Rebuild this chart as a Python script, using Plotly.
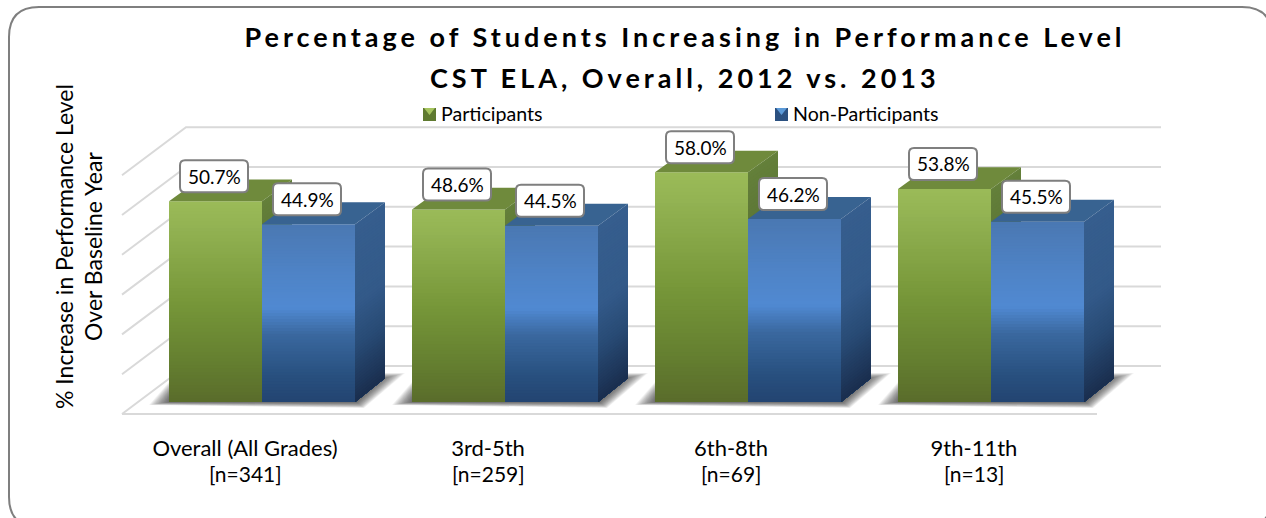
# Percentage of students increasing in performance level, fake-3D column chart
import plotly.graph_objects as go

# data
categories = ["Overall (All Grades)", "3rd-5th", "6th-8th", "9th-11th"]
n_labels = ["[n=341]", "[n=259]", "[n=69]", "[n=13]"]
participants = [50.7, 48.6, 58.0, 53.8]
non_participants = [44.9, 44.5, 46.2, 45.5]
wall_ticks = [0, 10, 20, 30, 40, 50, 60]

title_lines = ["Percentage of Students Increasing in Performance Level", "CST ELA, Overall, 2012 vs. 2013"]
y_title_lines = ["% Increase in Performance Level", "Over Baseline Year"]
series_names = ["Participants", "Non-Participants"]

# vertical gradients, (position from top, colour)
green_front = [(0, "#9abb58"), (0.12, "#93b353"), (0.5, "#779739"), (0.8, "#647f30"), (1, "#5a6c2b")]
blue_front = [(0, "#4a78b2"), (0.3, "#4f84c8"), (0.47, "#5089d2"), (0.62, "#3a689f"), (0.85, "#28507f"), (1, "#234471")]
green_side = [(0, "#64803a"), (1, "#46592a")]
blue_side = [(0, "#365e8e"), (0.45, "#335a89"), (0.7, "#284a74"), (1, "#1a2e4e")]
green_top = "#6f8a3c"
blue_top = "#386391"
grid_color = "#d9d9d9"
FONT = "Lato"

# pixel layout of the plot area
W, H = 1266, 518
PL, PR, PT, PB = 100, 1180, 100, 425
GROUP_PX = 243       # distance between groups
CENTER0_PX = 262     # first group centre
ZERO_PX = 402        # value 0 on the front plane
UNIT_PX = 3.96       # px for one percent
BAR_PX = 93
DEPTH_X = 30 / GROUP_PX
DEPTH_Y = 24 / UNIT_PX
DEPTH_K = 0.989
BAR_W = BAR_PX / GROUP_PX
SLICES = 60

x_range = [(PL - CENTER0_PX) / GROUP_PX, (PR - CENTER0_PX) / GROUP_PX]
y_range = [(ZERO_PX - PB) / UNIT_PX, (ZERO_PX - PT) / UNIT_PX]


def px_x(px):
    return (px - PL) / (PR - PL)


def px_y(py):
    return (PB - py) / (PB - PT)


def hex_rgb(c):
    return [int(c[i:i + 2], 16) for i in (1, 3, 5)]


def grad(stops, f):
    for (p0, c0), (p1, c1) in zip(stops, stops[1:]):
        if f <= p1:
            t = (f - p0) / (p1 - p0)
            a, b = hex_rgb(c0), hex_rgb(c1)
            return "rgb(%d,%d,%d)" % tuple(round(a[k] + (b[k] - a[k]) * t) for k in range(3))
    return stops[-1][1]


fig = go.Figure()

# back wall, floor and side wall lines
wall_y = [(ZERO_PX - 366) / UNIT_PX + v * 3.98 / UNIT_PX for v in wall_ticks]
back_l, back_r = (186 - CENTER0_PX) / GROUP_PX, (1161 - CENTER0_PX) / GROUP_PX
front_l, front_r = (122 - CENTER0_PX) / GROUP_PX, (1097 - CENTER0_PX) / GROUP_PX
lx, ly = [], []
for wy in wall_y:
    lx += [front_l, back_l, back_r, None]
    ly += [wy - 48 / UNIT_PX, wy, wy, None]
lx += [front_l, front_r]
ly += [wall_y[0] - 48 / UNIT_PX, wall_y[0] - 48 / UNIT_PX]
fig.add_trace(go.Scatter(x=lx, y=ly, mode="lines", line=dict(color=grid_color, width=2),
                         hoverinfo="skip", showlegend=False))

# soft shadow on the floor, stacked see-through layers from wide to narrow
SHADOW_LAYERS = 20
for k in range(SHADOW_LAYERS):
    g = 1 - k / (SHADOW_LAYERS - 1)
    sx, sy = [], []
    for i in range(len(categories)):
        xl, xr = i - BAR_W, i + BAR_W
        sx += [xl - 20 * g / GROUP_PX, xr + (1 + 8 * g) / GROUP_PX, xr + (26 + 24 * g) / GROUP_PX,
               xr + (24 - 2 * g) / GROUP_PX, xl, xl - 20 * g / GROUP_PX, None]
        sy += [-3 * g / UNIT_PX, -6 * g / UNIT_PX, (23 + 6 * g) / UNIT_PX,
               (23 + 6 * g) / UNIT_PX, (3 + 17 * g) / UNIT_PX, -3 * g / UNIT_PX, None]
    fig.add_trace(go.Scatter(x=sx, y=sy, mode="lines", fill="toself", line=dict(width=0),
                             fillcolor="rgba(30,30,30,0.05)", hoverinfo="skip", showlegend=False))


def add_series(values, offset, front, side, top, xa, ya):
    xs = [i + offset * BAR_W / 2 for i in range(len(values))]
    # top faces
    tx, ty = [], []
    for x, v in zip(xs, values):
        back = DEPTH_Y + v * DEPTH_K
        tx += [x - BAR_W / 2, x + BAR_W / 2, x + BAR_W / 2 + DEPTH_X, x - BAR_W / 2 + DEPTH_X, x - BAR_W / 2, None]
        ty += [v, v, back, back, v, None]
    fig.add_trace(go.Scatter(x=tx, y=ty, mode="lines", fill="toself", fillcolor=top, line=dict(width=0),
                             hoverinfo="skip", showlegend=False, xaxis=xa, yaxis=ya))
    # side and front faces: each colour step is drawn from the floor up to its
    # own height, top step first, so the later ones paint over and leave no seams
    for s in range(SLICES):
        f0 = s / SLICES
        mid = (s + 0.5) / SLICES
        sx, sy = [], []
        for x, v in zip(xs, values):
            r = x + BAR_W / 2
            hi = v * (1 - f0)
            sx += [r, r + DEPTH_X, r + DEPTH_X, r, r, None]
            sy += [0, DEPTH_Y, DEPTH_Y + hi * DEPTH_K, hi, 0, None]
        fig.add_trace(go.Scatter(x=sx, y=sy, mode="lines", fill="toself", fillcolor=grad(side, mid),
                                 line=dict(width=0), hoverinfo="skip",
                                 showlegend=False, xaxis=xa, yaxis=ya))
        fig.add_trace(go.Bar(x=xs, y=[v * (1 - f0) for v in values],
                             width=BAR_W, marker=dict(color=grad(front, mid), line=dict(width=0)),
                             hoverinfo="skip", showlegend=False, xaxis=xa, yaxis=ya))


add_series(participants, -1, green_front, green_side, green_top, "x2", "y2")
add_series(non_participants, 1, blue_front, blue_side, blue_top, "x3", "y3")

shapes = []
annotations = []


def rounded_path(x0, y0, x1, y1, r):
    return (f"M {x0 + r} {y0} L {x1 - r} {y0} Q {x1} {y0} {x1} {y0 + r} L {x1} {y1 - r} Q {x1} {y1} {x1 - r} {y1} "
            f"L {x0 + r} {y1} Q {x0} {y1} {x0} {y1 - r} L {x0} {y0 + r} Q {x0} {y0} {x0 + r} {y0} Z")


# value labels in rounded boxes, anchored on the bars
for values, offset in [(participants, -1), (non_participants, 1)]:
    for i, v in enumerate(values):
        x = i + offset * BAR_W / 2 - 1.5 / GROUP_PX
        shapes.append(dict(type="path", xref="x", yref="y", xsizemode="pixel", ysizemode="pixel",
                           xanchor=x, yanchor=v, path=rounded_path(-34, 9, 34, 41, 5),
                           fillcolor="white", line=dict(color="#7f7f7f", width=2), layer="above"))
        annotations.append(dict(x=x, y=v, xref="x", yref="y", text=f"{v:.1f}%", showarrow=False, yshift=25,
                                font=dict(family=FONT, size=19, color="black")))

# outer rounded frame, its right and bottom sides run off the picture
fx = [px_x(9), px_x(1272), px_x(39), px_x(1242)]
fy = [px_y(7), px_y(527), px_y(37), px_y(497)]
frame = (f"M {fx[2]} {fy[0]} L {fx[3]} {fy[0]} Q {fx[1]} {fy[0]} {fx[1]} {fy[2]} L {fx[1]} {fy[3]} "
         f"Q {fx[1]} {fy[1]} {fx[3]} {fy[1]} L {fx[2]} {fy[1]} Q {fx[0]} {fy[1]} {fx[0]} {fy[3]} "
         f"L {fx[0]} {fy[2]} Q {fx[0]} {fy[0]} {fx[2]} {fy[0]} Z")
shapes.append(dict(type="path", xref="paper", yref="paper", path=frame, line=dict(color="#7f7f7f", width=2)))

# legend, swatch with a lighter notch like the original bevel
legend_pos = [(423, "#5f7a30", "#a6c45f"), (775, "#2b5080", "#5c9ad8")]
for name, (lx0, dark, light) in zip(series_names, legend_pos):
    shapes.append(dict(type="rect", xref="paper", yref="paper", x0=px_x(lx0), x1=px_x(lx0 + 13),
                       y0=px_y(108), y1=px_y(121), fillcolor=dark, line=dict(width=0)))
    shapes.append(dict(type="path", xref="paper", yref="paper",
                       path=f"M {px_x(lx0 + 1)} {px_y(108)} L {px_x(lx0 + 12)} {px_y(108)} L {px_x(lx0 + 6.5)} {px_y(115)} Z",
                       fillcolor=light, line=dict(width=0)))
    annotations.append(dict(x=px_x(lx0 + 16), y=px_y(113.5), xref="paper", yref="paper", text=name, showarrow=False,
                            xanchor="left", yanchor="middle", font=dict(family=FONT, size=19.6, color="black")))

# y axis title, one annotation per line
for text, px in zip(y_title_lines, [64, 93]):
    annotations.append(dict(x=px_x(px), y=px_y(247), xref="paper", yref="paper", text=text, textangle=-90,
                            showarrow=False, xanchor="center", yanchor="middle",
                            font=dict(family=FONT, size=23, color="black")))

# second line of the category labels
for i, text in enumerate(n_labels):
    annotations.append(dict(x=i - 17 / GROUP_PX, y=px_y(473.5), xref="x", yref="paper", text=text, showarrow=False,
                            xanchor="center", yanchor="middle", font=dict(family=FONT, size=21, color="black")))

# second title line
annotations.append(dict(x=px_x(685), y=px_y(77), xref="paper", yref="paper", text=title_lines[1], showarrow=False,
                        xanchor="center", yanchor="middle",
                        font=dict(family=FONT, size=27, color="black", weight="bold")))

axis_off = dict(visible=False, fixedrange=True)
fig.update_layout(
    width=W, height=H, margin=dict(l=PL, r=W - PR, t=PT, b=H - PB),
    paper_bgcolor="white", plot_bgcolor="rgba(0,0,0,0)",
    barmode="overlay", showlegend=False, shapes=shapes, annotations=annotations,
    title=dict(text=title_lines[0], x=685 / W, xanchor="center", xref="container", y=1 - 38 / H, yanchor="middle",
               font=dict(family=FONT, size=27, color="black", weight="bold")),
    xaxis=dict(range=x_range, tickmode="array", tickvals=[i - 17 / GROUP_PX for i in range(len(categories))],
               ticktext=categories, ticks="outside", ticklen=4, tickcolor="rgba(0,0,0,0)", showgrid=False,
               zeroline=False, showline=False, fixedrange=True, tickfont=dict(family=FONT, size=22, color="black")),
    yaxis=dict(range=y_range, showticklabels=False, ticks="", showgrid=False, zeroline=False, fixedrange=True),
    xaxis2=dict(range=x_range, overlaying="x", **axis_off),
    yaxis2=dict(range=y_range, overlaying="y", **axis_off),
    xaxis3=dict(range=x_range, overlaying="x", **axis_off),
    yaxis3=dict(range=y_range, overlaying="y", **axis_off),
)

# the original title has wide letter spacing, plotly has no option for it
page_fix = ("document.body.style.margin='0';"
            "document.querySelectorAll('.gtitle').forEach(t=>t.style.letterSpacing='4px');"
            "document.querySelectorAll('.annotation-text').forEach(t=>{"
            "if(t.textContent.startsWith('CST'))t.style.letterSpacing='4px';});")
fig.write_html("out.html", post_script=page_fix, config=dict(displayModeBar=False))
